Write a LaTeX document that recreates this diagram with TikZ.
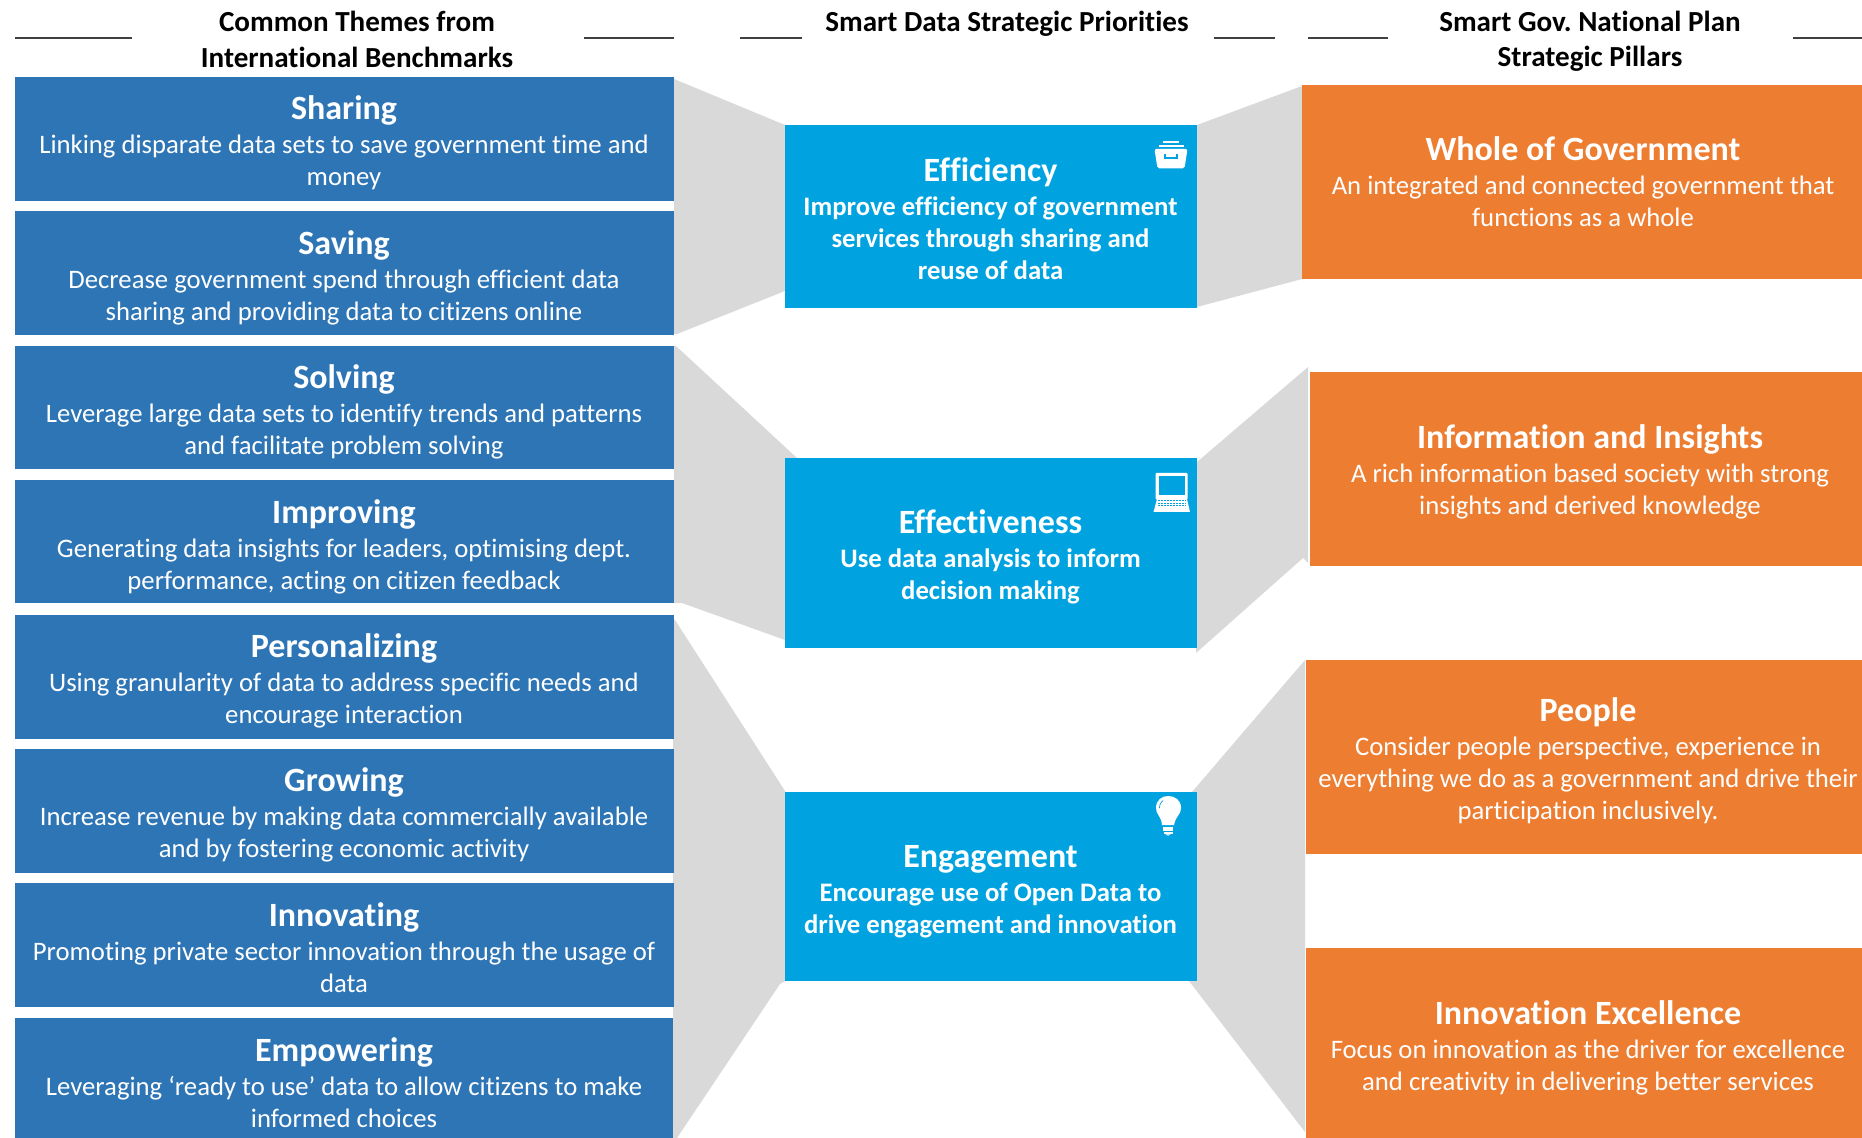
\documentclass[tikz,border=0pt]{standalone}
\usepackage{fontspec}
\setmainfont[Ligatures=NoCommon]{Carlito}
\frenchspacing
\definecolor{themeblue}{HTML}{2E75B6}
\definecolor{priblue}{HTML}{00A3E0}
\definecolor{pillar}{HTML}{ED7D31}
\definecolor{band}{HTML}{D9D9D9}
\newcommand{\tfnt}{\fontsize{17}{19}\bfseries\selectfont}
\newcommand{\bfnt}{\fontsize{13.35}{16}\mdseries\selectfont}
\newcommand{\bbfnt}{\fontsize{13.35}{16}\bfseries\selectfont}
\newcommand{\curfnt}{\bfnt}
\newcommand{\tbox}[9]{%
  \node[boxbase,#1,minimum width={0.5pt*(#5-#3)},minimum height={0.5pt*(#6-#4)}] (#2) at ({(#3+#5)/2},{(#4+#6)/2}) {};
  \node[boxtext] (#2-t) at (#7,#8) {#9};
}
\tikzset{
  boxbase/.style={inner sep=0pt,outer sep=0pt,draw=none},
  boxtext/.style={inner sep=0pt,outer sep=0pt,align=center,text=white,font=\curfnt},
  themebox/.style={fill=themeblue},
  pribox/.style={fill=priblue},
  pilbox/.style={fill=pillar},
  bandfill/.style={fill=band,draw=none},
  head/.style={inner sep=0pt,align=center,text=black,font=\fontsize{14.55}{17.6}\bfseries\selectfont},
  rule/.style={draw=black!75,line width=0.55pt},
  icon/.style={fill=white,draw=none}
}
\begin{document}
\begin{tikzpicture}[x=0.5pt,y=-0.5pt]
\useasboundingbox (0,0) rectangle (1862,1138);
% bands left
\fill[bandfill] (674,79) -- (785,125) -- (785,291) -- (677,334) -- (674,334) -- cycle;
\fill[bandfill] (676,346) -- (797,458) -- (785,458) -- (785,640) -- (682,603) -- (674,603) -- (674,346) -- cycle;
\fill[bandfill] (675,620) -- (785,791) -- (785,981) -- (780,984) -- (677,1138) -- (673,1138) -- (673,620) -- cycle;
% bands right
\fill[bandfill] (1197,125) -- (1302,86) -- (1302,279) -- (1197,307) -- cycle;
\fill[bandfill] (1197,462) -- (1308,367) -- (1308,563) -- (1303,558) -- (1196,653) -- cycle;
\fill[bandfill] (1192,792) -- (1305,660) -- (1305,1132) -- (1189,981) -- cycle;
% headers
\node[head] (h1) at (357,39.5) {Common Themes from\\International Benchmarks};
\node[head] (h2) at (1007,24) {Smart Data Strategic Priorities};
\node[head] (h3) at (1590,41.5) {Smart Gov. National Plan\\Strategic Pillars};
\coordinate (r1a) at (15,38); \coordinate (r1b) at (132,38);
\coordinate (r2a) at (584,38); \coordinate (r2b) at (674,38);
\coordinate (r3a) at (740,38); \coordinate (r3b) at (802,38);
\coordinate (r4a) at (1214,38); \coordinate (r4b) at (1275,38);
\coordinate (r5a) at (1308,38); \coordinate (r5b) at (1388,38);
\coordinate (r6a) at (1793,38); \coordinate (r6b) at (1862,38);
\draw[rule] (r1a) -- (r1b); \draw[rule] (r2a) -- (r2b); \draw[rule] (r3a) -- (r3b);
\draw[rule] (r4a) -- (r4b); \draw[rule] (r5a) -- (r5b); \draw[rule] (r6a) -- (r6b);
% left column
\tbox{themebox}{a1}{15}{77}{674}{201}{344}{142.5}{{\tfnt Sharing}\\[0.9pt]Linking disparate data sets to save government time and\\money}
\tbox{themebox}{a2}{15}{211}{674}{335}{344}{277.9}{{\tfnt Saving}\\[0.9pt]Decrease government spend through efficient data\\sharing and providing data to citizens online}
\tbox{themebox}{a3}{15}{346}{674}{469}{344}{412.1}{{\tfnt Solving}\\[0.9pt]Leverage large data sets to identify trends and patterns\\and facilitate problem solving}
\tbox{themebox}{a4}{15}{480}{674}{603}{344}{546.9}{{\tfnt Improving}\\[0.9pt]Generating data insights for leaders, optimising dept.\\performance, acting on citizen feedback}
\tbox{themebox}{a5}{15}{615}{674}{739}{344}{681}{{\tfnt Personalizing}\\[0.9pt]Using granularity of data to address specific needs and\\encourage interaction}
\tbox{themebox}{a6}{15}{749}{674}{873}{344}{815}{{\tfnt Growing}\\[0.9pt]Increase revenue by making data commercially available\\and by fostering economic activity}
\tbox{themebox}{a7}{15}{883}{674}{1007}{344}{948}{{\tfnt Innovating}\\[0.9pt]Promoting private sector innovation through the usage of\\data}
\tbox{themebox}{a8}{15}{1018}{673}{1138}{344}{1082.5}{{\tfnt Empowering}\\[0.9pt]Leveraging ‘ready to use’ data to allow citizens to make\\informed choices}
% middle column
\renewcommand{\curfnt}{\bbfnt}
\tbox{pribox}{b1}{785}{125}{1197}{308}{990.5}{218.5}{{\tfnt Efficiency}\\[0.9pt]Improve efficiency of government\\services through sharing and\\reuse of data}
\tbox{pribox}{b2}{785}{458}{1197}{648}{990.5}{556.5}{{\tfnt Effectiveness}\\[0.9pt]Use data analysis to inform\\decision making}
\tbox{pribox}{b3}{785}{792}{1197}{981}{990.5}{891.5}{{\tfnt Engagement}\\[0.9pt]Encourage use of Open Data to\\drive engagement and innovation}
% right column
\renewcommand{\curfnt}{\bfnt}
\tbox{pilbox}{c1}{1302}{85}{1862}{279}{1583}{182}{{\tfnt Whole of Government}\\[0.9pt]An integrated and connected government that\\functions as a whole}
\tbox{pilbox}{c2}{1310}{372}{1862}{566}{1590}{472}{{\tfnt Information and Insights}\\[0.9pt]A rich information based society with strong\\insights and derived knowledge}
\tbox{pilbox}{c3}{1306}{660}{1862}{854}{1588}{760.9}{{\tfnt People}\\[0.9pt]Consider people perspective, experience in\\everything we do as a government and drive their\\participation inclusively.}
\tbox{pilbox}{c4}{1306}{948}{1862}{1138}{1588}{1048}{{\tfnt Innovation Excellence}\\[0.9pt]Focus on innovation as the driver for excellence\\and creativity in delivering better services}
% file-box icon
\fill[icon] (1163,141.5) rectangle (1179,143.2);
\fill[icon] (1158.5,145) rectangle (1183.5,147.2);
\fill[icon,rounded corners=1pt] (1154.5,149) -- (1187.5,149) -- (1184.5,168.5) -- (1157.5,168.5) -- cycle;
\draw[priblue,line width=0.7pt] (1165,154) -- (1165,158) -- (1177,158) -- (1177,154);
% laptop icon
\fill[icon,rounded corners=0.4pt] (1155.5,473) rectangle (1187.5,499.5);
\fill[priblue] (1158.5,476) rectangle (1184.5,495);
\fill[icon] (1157,499) -- (1187,499) -- (1190,512) -- (1153.5,512) -- cycle;
\foreach \yy in {501,503.5,506}{\draw[priblue,line width=0.5pt,dash pattern=on 1pt off 0.5pt] (1158,\yy) -- (1186,\yy);}
% bulb icon
\fill[icon] (1162,825) .. controls (1161,815) and (1156,815) .. (1156,808) .. controls (1156,800) and (1162,796) .. (1168,796) .. controls (1175,796) and (1181,800) .. (1181,808) .. controls (1181,815) and (1176,815) .. (1174,825) -- cycle;
\fill[icon] (1163,827) rectangle (1173,830.5);
\fill[icon] (1163.5,831.5) rectangle (1172.5,834);
\fill[white!70!priblue] (1165,834) -- (1171,834) -- (1168,836) -- cycle;
\draw[priblue,line width=0.35pt] (1159.5,808) .. controls (1159.5,804) and (1161,802) .. (1163,800.5);
\end{tikzpicture}
\end{document}
